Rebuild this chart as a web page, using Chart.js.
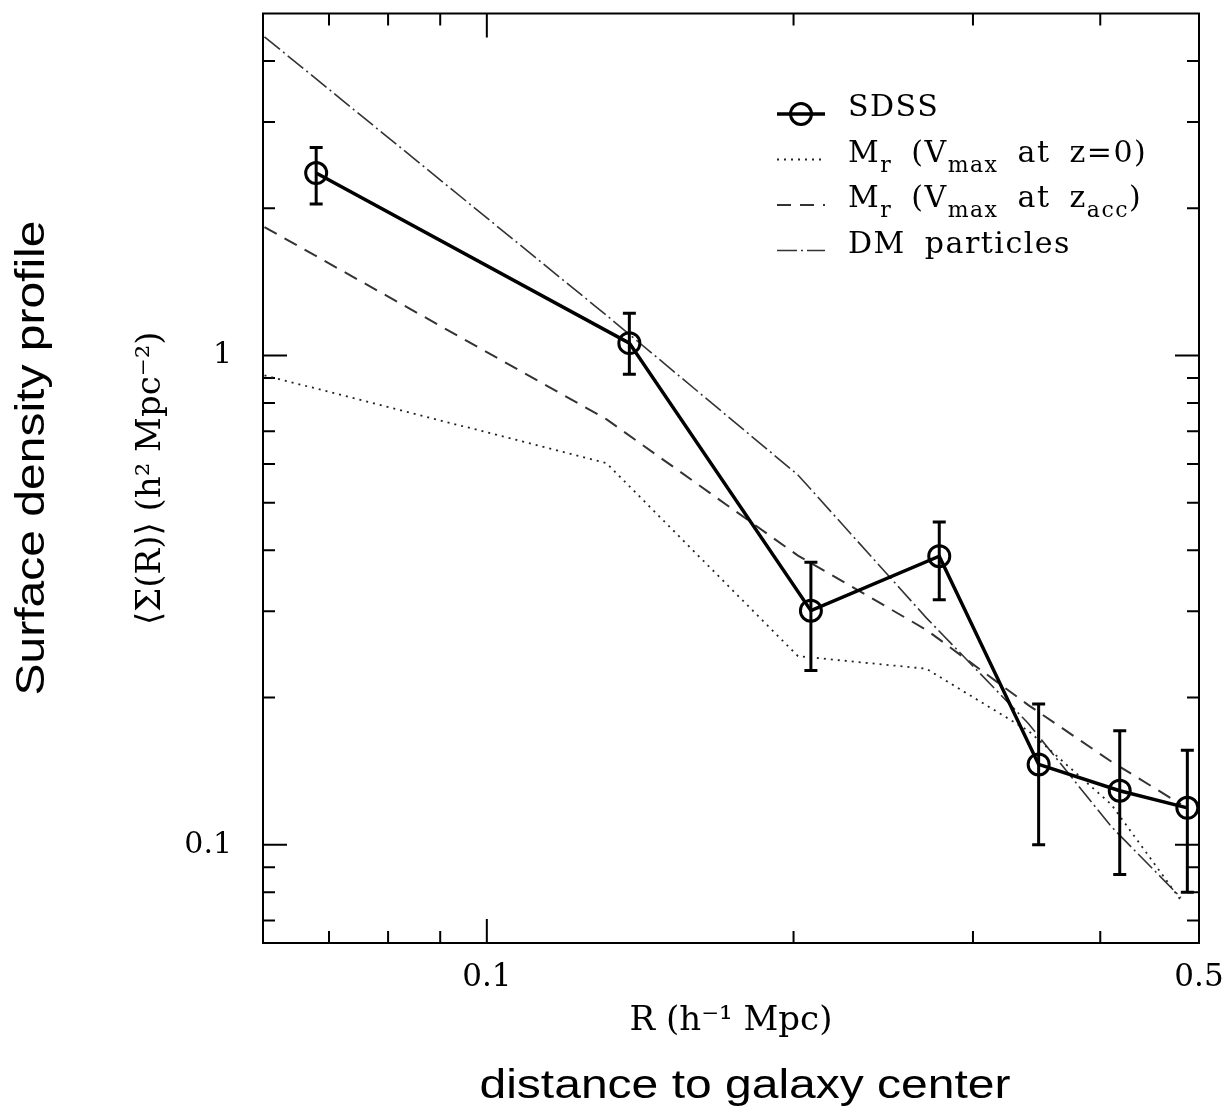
<!DOCTYPE html>
<html><head><meta charset="utf-8">
<script src="https://cdn.jsdelivr.net/npm/chart.js@4"></script>
<style>html,body{margin:0;padding:0;background:#fff;}#wrap{width:1226px;height:1112px;}</style>
</head><body><div id="wrap"><canvas id="c" width="1226" height="1112"></canvas></div>
<script>
// ---- data ----
const sdssR      = [0.068, 0.138, 0.208, 0.278, 0.348, 0.418, 0.487];
const sdssSigma  = [2.36, 1.06, 0.301, 0.389, 0.146, 0.129, 0.119];
const sdssErrHi  = [2.66, 1.22, 0.378, 0.457, 0.194, 0.171, 0.156];
const sdssErrLo  = [2.04, 0.916, 0.227, 0.317, 0.100, 0.087, 0.080];
const modelR     = [0.0605, 0.131, 0.202, 0.270, 0.340, 0.410, 0.480];
const vmaxZ0     = [0.911, 0.603, 0.243, 0.229, 0.171, 0.121, 0.077];
const vmaxZacc   = [1.83, 0.741, 0.390, 0.275, 0.193, 0.148, 0.121];
const dmParticles= [4.48, 1.209, 0.570, 0.291, 0.177, 0.109, 0.078];
const xTickValues = [0.07, 0.08, 0.09, 0.1, 0.2, 0.3, 0.4, 0.5];
const yTickValues = [0.07, 0.08, 0.09, 0.1, 0.2, 0.3, 0.4, 0.5, 0.6, 0.7, 0.8, 0.9, 1, 2, 3, 4];
const xTickLabels = {'0.1': '0.1', '0.5': '0.5'};
const yTickLabels = {'0.1': '0.1', '1': '1'};
const seriesLabels = ['SDSS', 'M_{r} (V_{max} at z=0)', 'M_{r} (V_{max} at z_{acc})', 'DM particles'];
const xTitle = 'R (h\u207B\u00B9 Mpc)';
const yTitle = '\u27E8\u03A3(R)\u27E9 (h\u00B2 Mpc\u207B\u00B2)';
const outerYLabel = 'Surface density profile';
const outerXLabel = 'distance to galaxy center';

const pts = (xs, ys) => xs.map((x, i) => ({x: x, y: ys[i]}));
const isMajor = v => Math.abs(Math.log10(v) - Math.round(Math.log10(v))) < 1e-9;
const SERIF = '"DejaVu Serif", "Liberation Serif", serif';

const frameTicks = {
  id: 'frameTicks',
  beforeDatasetsDraw(chart) {
    const {ctx, chartArea: a, scales: {x, y}} = chart;
    ctx.save();
    ctx.strokeStyle = '#000';
    ctx.lineWidth = 2;
    ctx.strokeRect(a.left, a.top, a.right - a.left, a.bottom - a.top);
    ctx.beginPath();
    x.ticks.forEach(t => {
      const p = x.getPixelForValue(t.value), L = isMajor(t.value) ? 24 : 12;
      ctx.moveTo(p, a.bottom); ctx.lineTo(p, a.bottom - L);
      ctx.moveTo(p, a.top); ctx.lineTo(p, a.top + L);
    });
    y.ticks.forEach(t => {
      const p = y.getPixelForValue(t.value), L = isMajor(t.value) ? 24 : 12;
      ctx.moveTo(a.left, p); ctx.lineTo(a.left + L, p);
      ctx.moveTo(a.right, p); ctx.lineTo(a.right - L, p);
    });
    ctx.stroke();
    ctx.restore();
  }
};

const errorBars = {
  id: 'errorBars',
  afterDatasetsDraw(chart) {
    const {ctx, scales: {x, y}} = chart;
    ctx.save();
    ctx.strokeStyle = '#000';
    ctx.lineWidth = 3;
    ctx.beginPath();
    sdssR.forEach((r, i) => {
      const px = x.getPixelForValue(r);
      const yh = y.getPixelForValue(sdssErrHi[i]), yl = y.getPixelForValue(sdssErrLo[i]);
      ctx.moveTo(px, yh); ctx.lineTo(px, yl);
      ctx.moveTo(px - 6.5, yh); ctx.lineTo(px + 6.5, yh);
      ctx.moveTo(px - 6.5, yl); ctx.lineTo(px + 6.5, yl);
    });
    ctx.stroke();
    ctx.restore();
  }
};

function parseRich(s) {
  const parts = []; const re = /_\{([^}]*)\}/g; let last = 0, m;
  while ((m = re.exec(s))) {
    if (m.index > last) parts.push({t: s.slice(last, m.index)});
    parts.push({t: m[1], sub: true});
    last = re.lastIndex;
  }
  if (last < s.length) parts.push({t: s.slice(last)});
  return parts;
}

const legendAndNotes = {
  id: 'legendAndNotes',
  afterDraw(chart) {
    const {ctx} = chart;
    const x0 = 777, x1 = 825, tx = 848, top = 114, step = 45.5, extraSpace = 8;
    chart.data.datasets.forEach((ds, i) => {
      const yy = top + i * step;
      ctx.save();
      ctx.strokeStyle = ds.borderColor;
      ctx.lineWidth = ds.borderWidth;
      ctx.setLineDash(ds.borderDash || []);
      ctx.beginPath(); ctx.moveTo(x0, yy); ctx.lineTo(x1, yy); ctx.stroke();
      if (ds.pointRadius > 0) {
        ctx.setLineDash([]);
        ctx.lineWidth = ds.pointBorderWidth;
        ctx.beginPath(); ctx.arc((x0 + x1) / 2, yy, ds.pointRadius, 0, Math.PI * 2); ctx.stroke();
      }
      ctx.restore();
      ctx.save();
      ctx.fillStyle = '#000';
      ctx.textBaseline = 'alphabetic';
      ctx.letterSpacing = '1.5px';
      let cx = tx;
      parseRich(ds.label).forEach(p => {
        ctx.font = (p.sub ? '22px ' : '30px ') + SERIF;
        const words = p.t.split(' ');
        words.forEach((w, k) => {
          if (k > 0) cx += ctx.measureText(' ').width + extraSpace;
          if (w) { ctx.fillText(w, cx, yy + 2 + (p.sub ? 10 : 0)); cx += ctx.measureText(w).width; }
        });
      });
      ctx.restore();
    });
    // outer annotations
    ctx.save();
    ctx.fillStyle = '#000';
    ctx.font = '40px "Liberation Sans", Arial, sans-serif';
    ctx.textAlign = 'center';
    ctx.textBaseline = 'alphabetic';
    ctx.save(); ctx.translate(745, 1098); ctx.scale(1.2, 1); ctx.fillText(outerXLabel, 0, 0); ctx.restore();
    ctx.save(); ctx.translate(44, 458); ctx.rotate(-Math.PI / 2); ctx.scale(1.2, 1); ctx.fillText(outerYLabel, 0, 0); ctx.restore();
    ctx.restore();
  }
};

new Chart(document.getElementById('c'), {
  type: 'scatter',
  data: {
    datasets: [
      {label: seriesLabels[0], data: pts(sdssR, sdssSigma), showLine: true, borderColor: '#000', borderWidth: 3.5,
       pointRadius: 10.5, pointBorderWidth: 3, pointBackgroundColor: 'rgba(0,0,0,0)', pointBorderColor: '#000', pointHoverRadius: 10.5},
      {label: seriesLabels[1], data: pts(modelR, vmaxZ0), showLine: true, borderColor: '#222', borderWidth: 1.8,
       borderDash: [2, 5], pointRadius: 0},
      {label: seriesLabels[2], data: pts(modelR, vmaxZacc), showLine: true, borderColor: '#333', borderWidth: 2,
       borderDash: [14, 9], pointRadius: 0},
      {label: seriesLabels[3], data: pts(modelR, dmParticles), showLine: true, borderColor: '#333', borderWidth: 1.6,
       borderDash: [20, 4, 2, 4], pointRadius: 0}
    ]
  },
  options: {
    responsive: false,
    animation: false,
    events: [],
    layout: {padding: {left: 0, top: 8, right: 27, bottom: 69}},
    plugins: {legend: {display: false}, tooltip: {enabled: false}},
    scales: {
      x: {
        type: 'logarithmic', position: 'bottom', min: 0.0603, max: 0.5,
        afterBuildTicks: s => { s.ticks = xTickValues.map(v => ({value: v})); },
        afterFit: s => { s.height = 100; s.paddingLeft = 0; s.paddingRight = 0; },
        grid: {display: false}, border: {display: false},
        ticks: {autoSkip: false, maxRotation: 0, padding: 8, color: '#000',
                font: {family: SERIF, size: 31}, callback: v => xTickLabels[String(v)] ?? ''},
        title: {display: true, text: xTitle, color: '#000', font: {family: SERIF, size: 34}, padding: {top: 0, bottom: 1}}
      },
      y: {
        type: 'logarithmic', position: 'left', min: 0.063, max: 5,
        afterBuildTicks: s => { s.ticks = yTickValues.map(v => ({value: v})); },
        afterFit: s => { s.width = 263; s.paddingTop = 0; s.paddingBottom = 0; },
        grid: {display: false}, border: {display: false},
        ticks: {autoSkip: false, padding: 23, color: '#000',
                font: {family: SERIF, size: 30}, callback: v => yTickLabels[String(v)] ?? ''},
        title: {display: true, text: yTitle, color: '#000', font: {family: SERIF, size: 34}, padding: {top: 131, bottom: 0}}
      }
    }
  },
  plugins: [frameTicks, errorBars, legendAndNotes]
});
</script></body></html>
